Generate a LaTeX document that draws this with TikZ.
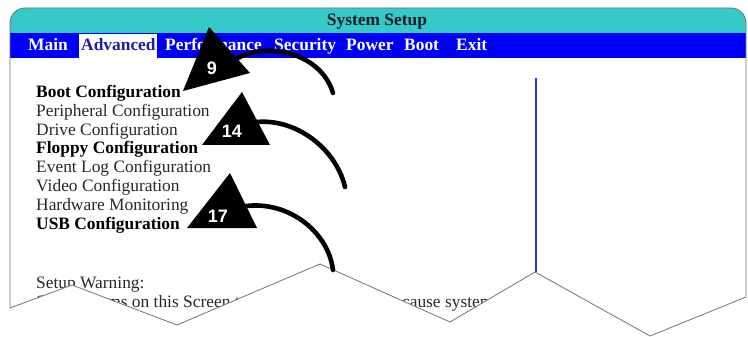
\documentclass[tikz,border=0pt]{standalone}
\usepackage{fontspec}
\setmainfont{Liberation Serif}
\newfontfamily\numfont{Liberation Sans}
\usepackage{tikz}
\definecolor{barcyan}{RGB}{54,201,201}
\definecolor{barblue}{RGB}{0,0,250}
\definecolor{tabblue}{RGB}{30,30,170}
\definecolor{titleink}{RGB}{15,25,35}
\definecolor{edgegray}{RGB}{115,115,115}
\definecolor{itemgray}{RGB}{40,40,40}
\definecolor{rulerblue}{RGB}{50,50,220}
\newcommand{\bigtext}{\fontsize{17.4}{19}\selectfont}

\begin{document}
\begin{tikzpicture}[x=1pt,y=-1pt,
    menu/.style={anchor=base west,inner sep=0pt,font=\bigtext\bfseries,text=white},
    item/.style={anchor=base west,inner sep=0pt,font=\bigtext,text=itemgray},
    bolditem/.style={item,font=\bigtext\bfseries,text=black},
    num/.style={inner sep=0pt,font=\numfont\fontsize{18}{18}\selectfont\bfseries,text=white},
    tail/.style={line width=4.6pt,line cap=round},
    edge/.style={draw=edgegray,line width=0.8pt}]
        \useasboundingbox (0,0) rectangle (748,337);
        \fill[white] (0,0) rectangle (748,337);
        \fill[barcyan,rounded corners=15pt] (10,8) rectangle (746,50);%title bar
        \fill[barblue] (10,33) rectangle (746,58);%menu bar
        \fill[white] (79,34) rectangle (157,58);%selected tab
        \node[font=\bigtext\bfseries,text=titleink,anchor=base] (title) at (377,26) {System Setup};
        \node[menu] (main) at (28,51) {Main};
        \node[menu,text=tabblue] (adv) at (81,51) {Advanced};
        \node[menu] (perf) at (165,51) {Performance};
        \node[menu] (sec) at (274,51) {Security};
        \node[menu] (pow) at (346,51) {Power};
        \node[menu] (bootm) at (404,51) {Boot};
        \node[menu] (exit) at (456,51) {Exit};
        \node[bolditem] (boot) at (36,97.5) {Boot Configuration};
        \node[item] (periph) at (36,116.3) {Peripheral Configuration};
        \node[item] (drive) at (36,135.1) {Drive Configuration};
        \node[bolditem] (floppy) at (36,153.9) {Floppy Configuration};
        \node[item] (eventlog) at (36,172.7) {Event Log Configuration};
        \node[item] (video) at (36,191.5) {Video Configuration};
        \node[item] (hw) at (36,210.3) {Hardware Monitoring};
        \node[bolditem] (usb) at (36,229.1) {USB Configuration};
        \node[item] (warn) at (36,288) {Setup Warning:};
        \node[item] (warntext) at (36,307) {Setting items on this Screen to incorrect values may cause system};
        \draw[draw=rulerblue,line width=1.2pt] (536,78) -- (536,272);%divider
        % torn edge
        \fill[white] (0,308) -- (10,308) -- (72,285) -- (177,325) -- (320,264) -- (450,322)
            -- (535,272) -- (650,336) -- (746,297) -- (748,297) -- (748,337) -- (0,337) -- cycle;
        \draw[edge,rounded corners=15pt] (10,308) -- (10,8) -- (746,8) -- (746,297);
        \draw[edge] (10,308) -- (72,285) -- (177,325) -- (320,264) -- (450,322)
            -- (535,272) -- (650,336) -- (746,297);
        % callouts
        \coordinate (s9) at (232,62);
        \coordinate (e9) at (333,93);
        \coordinate (s14) at (250,123);
        \coordinate (e14) at (345,187);
        \coordinate (s17) at (240,207);
        \coordinate (e17) at (333,270);
        \draw[tail] (s9) .. controls (260,40) and (320,50) .. (e9);
        \draw[tail] (s14) .. controls (290,115) and (335,145) .. (e14);
        \draw[tail] (s17) .. controls (285,198) and (328,230) .. (e17);
        \fill (209,27) -- (183,91) -- (250,73) -- cycle;%9
        \fill (242,92) -- (202,145) -- (270,145) -- cycle;%14
        \fill (230,173) -- (187,228) -- (257,228) -- cycle;%17
        \node[num] (n9) at (212,68) {9};
        \node[num] (n14) at (232,131) {14};
        \node[num] (n17) at (218,216) {17};
\end{tikzpicture}
\end{document}
